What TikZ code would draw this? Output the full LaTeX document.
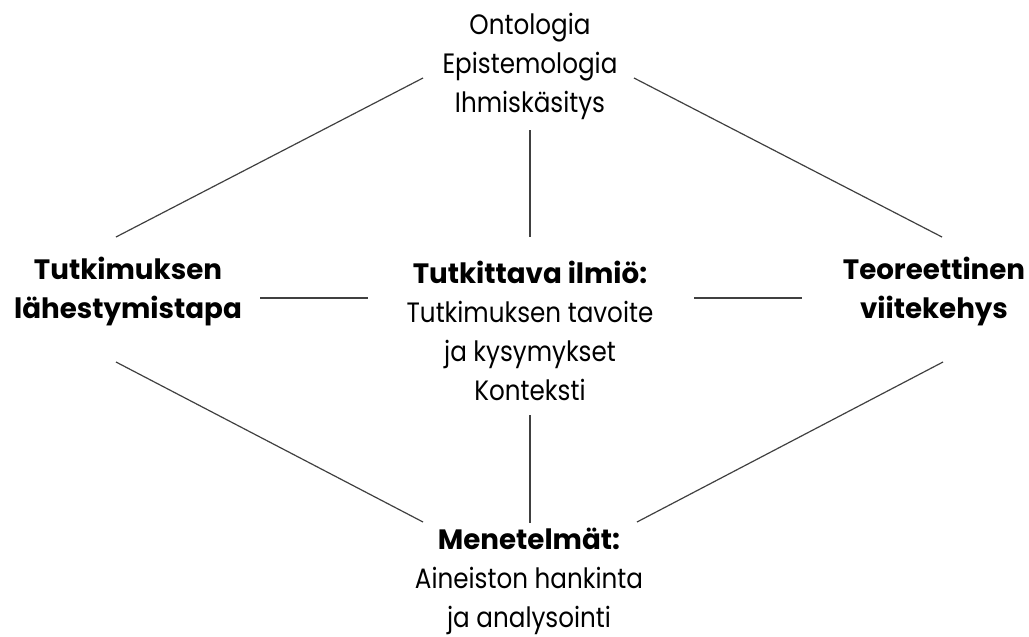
\documentclass[tikz,border=0pt]{standalone}
\usepackage{fontspec}
\setmainfont{Poppins}[FakeStretch=0.88, BoldFeatures={FakeStretch=0.99}]
\tikzset{
  lbl/.style={align=center, inner sep=0pt, anchor=base, font=\fontsize{28}{38.7}\selectfont},
  conn/.style={line width=1.2pt, draw=black!75}
}
\begin{document}
\begin{tikzpicture}[x=1pt,y=-1pt]
\useasboundingbox (0,0) rectangle (1029,637);
% base anchor = baseline of the last line
\node[lbl] (top) at (530,112) {Ontologia\\Epistemologia\\Ihmiskäsitys};
\node[lbl] (left) at (128,318) {\textbf{Tutkimuksen}\\\textbf{lähestymistapa}};
\node[lbl] (mid) at (530,400) {\textbf{Tutkittava ilmiö:}\\Tutkimuksen tavoite\\ja kysymykset\\Konteksti};
\node[lbl] (right) at (934,318) {\textbf{Teoreettinen}\\\textbf{viitekehys}};
\node[lbl] (bot) at (529,627) {\textbf{Menetelmät:}\\Aineiston hankinta\\ja analysointi};
\coordinate (tl1) at (116,237); \coordinate (tl2) at (423,78);
\coordinate (tr1) at (634,78);  \coordinate (tr2) at (942,237);
\coordinate (bl1) at (116,362); \coordinate (bl2) at (423,522);
\coordinate (br1) at (943,362); \coordinate (br2) at (637,522);
\coordinate (lh1) at (260,298); \coordinate (lh2) at (368,298);
\coordinate (rh1) at (694,298); \coordinate (rh2) at (802,298);
\coordinate (tv1) at (530,130); \coordinate (tv2) at (530,237);
\coordinate (bv1) at (530,415); \coordinate (bv2) at (530,523);
\draw[conn] (tl1) -- (tl2);
\draw[conn] (tr1) -- (tr2);
\draw[conn] (bl1) -- (bl2);
\draw[conn] (br1) -- (br2);
\draw[conn] (lh1) -- (lh2);
\draw[conn] (rh1) -- (rh2);
\draw[conn] (tv1) -- (tv2);
\draw[conn] (bv1) -- (bv2);
\end{tikzpicture}
\end{document}
